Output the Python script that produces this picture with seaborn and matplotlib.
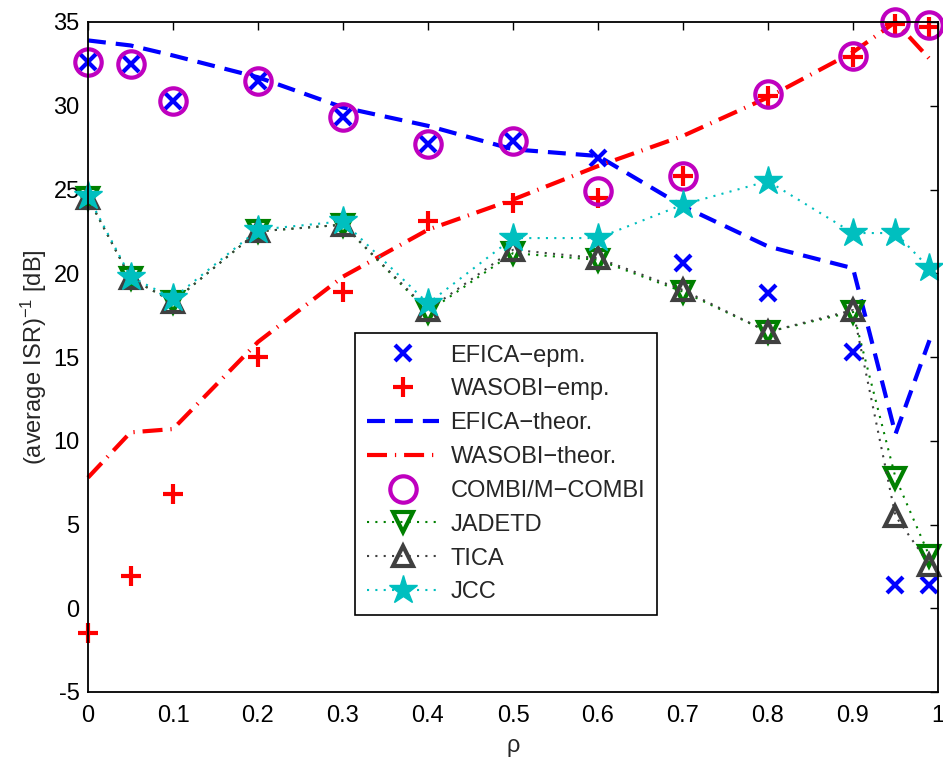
import numpy as np
import pandas as pd
import matplotlib
matplotlib.use("Agg")
import matplotlib.pyplot as plt
import seaborn as sns

rho = [0, 0.05, 0.1, 0.2, 0.3, 0.4, 0.5, 0.6, 0.7, 0.8, 0.9, 0.95, 0.99]

efica_emp = [32.6, 32.5, 30.3, 31.5, 29.3, 27.7, 27.9, 26.9, 20.6, 18.8, 15.3, 1.4, 1.4]
wasobi_emp = [-1.5, 1.9, 6.8, 15.0, 18.9, 23.1, 24.2, 24.5, 25.8, 30.6, 32.9, 34.9, 34.7]
efica_theor = [33.9, 33.6, 33.0, 31.7, 29.9, 28.8, 27.4, 27.0, 24.0, 21.6, 20.3, 10.4, 16.0]
wasobi_theor = [7.8, 10.5, 10.7, 15.9, 19.8, 22.6, 24.4, 26.4, 28.2, 30.5, 33.2, 35.0, 32.8]
combi = [32.6, 32.5, 30.3, 31.5, 29.3, 27.7, 27.9, 24.9, 25.8, 30.7, 33.0, 35.0, 34.8]
jadetd = [24.5, 19.7, 18.3, 22.5, 22.9, 17.7, 21.2, 20.8, 18.9, 16.5, 17.7, 7.8, 3.1]
tica = [24.5, 19.7, 18.3, 22.5, 22.9, 17.8, 21.4, 20.9, 19.0, 16.5, 17.8, 5.5, 2.6]
jcc = [24.6, 19.8, 18.5, 22.6, 23.1, 18.2, 22.1, 22.1, 24.1, 25.5, 22.4, 22.4, 20.3]

labels = ["EFICA\u2212epm.", "WASOBI\u2212emp.", "EFICA\u2212theor.", "WASOBI\u2212theor.",
          "COMBI/M\u2212COMBI", "JADETD", "TICA", "JCC"]
xticks = [0, 0.1, 0.2, 0.3, 0.4, 0.5, 0.6, 0.7, 0.8, 0.9, 1]
xticklabels = ["0", "0.1", "0.2", "0.3", "0.4", "0.5", "0.6", "0.7", "0.8", "0.9", "1"]
yticks = [-5, 0, 5, 10, 15, 20, 25, 30, 35]

sns.set_theme(style="white")
plt.rcParams["font.family"] = ["Liberation Sans", "DejaVu Sans"]
plt.rcParams["mathtext.fontset"] = "custom"
plt.rcParams["mathtext.rm"] = "Liberation Sans"
plt.rcParams["mathtext.it"] = "Liberation Sans"
plt.rcParams["mathtext.bf"] = "Liberation Sans"
plt.rcParams["axes.unicode_minus"] = False

FS = 17

fig = plt.figure(figsize=(9.43, 7.58), dpi=100)
ax = fig.add_axes([88 / 943, 1 - 692 / 758, 850 / 943, 670 / 758])

series = [efica_emp, wasobi_emp, efica_theor, wasobi_theor, combi, jadetd, tica, jcc]
styles = [
    dict(color=(0, 0, 1), marker="x", linestyle="none", markersize=12, markeredgewidth=3),
    dict(color=(1, 0, 0), marker="+", linestyle="none", markersize=15, markeredgewidth=3),
    dict(color=(0, 0, 1), marker=None, linestyle=(0, (4.3, 2.4)), linewidth=3),
    dict(color=(1, 0, 0), marker=None, linestyle=(0, (4.8, 1.9, 0.3, 1.9)), linewidth=3),
    dict(color=(0.75, 0, 0.75), marker="o", linestyle="none", markersize=19,
         markeredgewidth=3, markerfacecolor="none"),
    dict(color=(0, 0.5, 0), marker="v", linestyle=(0, (1, 3)), linewidth=1.5, markersize=15,
         markeredgewidth=3, markerfacecolor="none"),
    dict(color=(0.25, 0.25, 0.25), marker="^", linestyle=(0, (1, 3)), linewidth=1.5,
         markersize=15, markeredgewidth=3, markerfacecolor="none"),
    dict(color=(0, 0.75, 0.75), marker="*", linestyle=(0, (1, 3)), linewidth=1.5, markersize=21,
         markeredgewidth=1),
]

for vals, lab, st in zip(series, labels, styles):
    df = pd.DataFrame({"rho": rho, "val": vals})
    st = dict(st)
    color = st.pop("color")
    marker = st.pop("marker")
    kw = {}
    if marker is not None:
        kw["marker"] = marker
        st["markeredgecolor"] = color
    sns.lineplot(data=df, x="rho", y="val", ax=ax, color=color, label=lab,
                 sort=False, estimator=None, clip_on=False, **kw, **st)

ax.set_xlim(0, 1)
ax.set_ylim(-5, 35)
ax.set_xticks(xticks)
ax.set_xticklabels(xticklabels)
ax.set_yticks(yticks)
ax.tick_params(direction="in", length=6, width=1, top=True, right=True,
               labelsize=FS, colors="black")
ax.tick_params(axis="x", pad=9)
ax.tick_params(axis="y", pad=6)
for s in ax.spines.values():
    s.set_color("black")
    s.set_linewidth(1.3)
ax.set_xlabel("\u03c1", fontsize=FS, labelpad=6)
ax.set_ylabel("(average ISR)$^{-1}$ [dB]", fontsize=FS, labelpad=3)

leg = ax.legend(loc="upper left", bbox_to_anchor=(0.314, 0.536), borderaxespad=0,
                fontsize=FS, numpoints=1, fancybox=False, frameon=True,
                handlelength=3.05, labelspacing=0.5, handletextpad=0.5, borderpad=0.5)
leg.get_frame().set_edgecolor("black")
leg.get_frame().set_linewidth(1.2)
leg.get_frame().set_alpha(1)

fig.savefig("out.png", dpi=100)
